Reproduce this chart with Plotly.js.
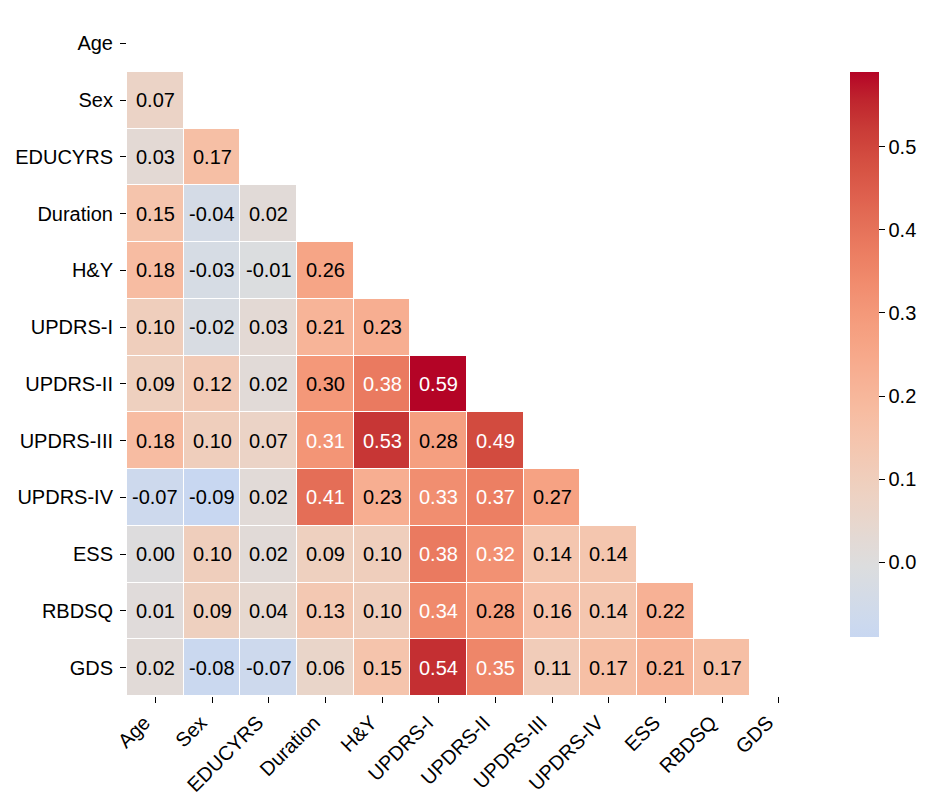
<!DOCTYPE html>
<html>
<head>
<meta charset="utf-8">
<script src="https://cdn.plot.ly/plotly-3.0.1.min.js"></script>
<style>html,body{margin:0;padding:0;background:#fff;}#chart{width:935px;height:807px;}</style>
</head>
<body>
<div id="chart"></div>
<script>
// Variables (tick labels)
const variables = ["Age","Sex","EDUCYRS","Duration","H&Y","UPDRS-I","UPDRS-II","UPDRS-III","UPDRS-IV","ESS","RBDSQ","GDS"];

// Lower-triangle correlation values, one list per row (row variable vs. earlier columns)
const rowAge      = [];
const rowSex      = [0.07];
const rowEDUCYRS  = [0.03, 0.17];
const rowDuration = [0.15, -0.04, 0.02];
const rowHY       = [0.18, -0.03, -0.01, 0.26];
const rowUPDRS1   = [0.10, -0.02, 0.03, 0.21, 0.23];
const rowUPDRS2   = [0.09, 0.12, 0.02, 0.30, 0.38, 0.59];
const rowUPDRS3   = [0.18, 0.10, 0.07, 0.31, 0.53, 0.28, 0.49];
const rowUPDRS4   = [-0.07, -0.09, 0.02, 0.41, 0.23, 0.33, 0.37, 0.27];
const rowESS      = [0.00, 0.10, 0.02, 0.09, 0.10, 0.38, 0.32, 0.14, 0.14];
const rowRBDSQ    = [0.01, 0.09, 0.04, 0.13, 0.10, 0.34, 0.28, 0.16, 0.14, 0.22];
const rowGDS      = [0.02, -0.08, -0.07, 0.06, 0.15, 0.54, 0.35, 0.11, 0.17, 0.21, 0.17];

const rows = [rowAge,rowSex,rowEDUCYRS,rowDuration,rowHY,rowUPDRS1,rowUPDRS2,rowUPDRS3,rowUPDRS4,rowESS,rowRBDSQ,rowGDS];
const colorbarTicks = [0.0, 0.1, 0.2, 0.3, 0.4, 0.5];

// Build masked matrix
const n = variables.length;
const z = rows.map(r => { const a = []; for (let j = 0; j < n; j++) a.push(j < r.length ? r[j] : null); return a; });

// coolwarm colormap, centered at 0
const coolwarm = [
 [59,76,192],[68,90,204],[77,104,215],[87,117,225],[98,130,234],[108,142,241],[119,154,247],[130,165,251],
 [141,176,254],[152,185,255],[163,194,255],[174,201,253],[184,208,249],[194,213,244],[204,217,238],[213,219,230],
 [221,221,221],[229,216,209],[236,211,197],[241,204,185],[245,196,173],[247,187,160],[247,177,148],[247,166,135],
 [244,154,123],[241,141,111],[236,127,99],[229,112,88],[222,96,77],[213,80,66],[203,62,56],[192,40,47],[180,4,38]
];
function cw(t){
  t = Math.max(0, Math.min(1, t));
  const p = t * (coolwarm.length - 1);
  const i = Math.min(Math.floor(p), coolwarm.length - 2);
  const f = p - i;
  const c = coolwarm[i].map((v,k) => Math.round(v + (coolwarm[i+1][k] - v) * f));
  return 'rgb(' + c.join(',') + ')';
}
const all = rows.flat();
const zmin = Math.min(...all), zmax = Math.max(...all);
const vr = Math.max(zmax, -zmin);
const colorscale = [];
const steps = 40;
for (let s = 0; s <= steps; s++) {
  const t = s / steps;
  const v = zmin + (zmax - zmin) * t;
  colorscale.push([t, cw(0.5 + v / (2 * vr))]);
}

const FONT = 'Liberation Sans, Arial, sans-serif';
const annotations = [];
rows.forEach((r, i) => r.forEach((v, j) => {
  annotations.push({
    x: variables[j], y: variables[i], xref: 'x', yref: 'y',
    text: v.toFixed(2), showarrow: false,
    font: {family: FONT, size: 20, color: v > 0.305 ? '#ffffff' : '#000000'}
  });
}));

const trace = {
  type: 'heatmap', x: variables, y: variables, z: z,
  zmin: zmin, zmax: zmax, colorscale: colorscale,
  xgap: 1, ygap: 1, hoverongaps: false,
  colorbar: {
    x: 1.063, xanchor: 'left', xpad: 0, y: 0.5015, yanchor: 'middle', ypad: 0,
    lenmode: 'pixels', len: 565, thickness: 29, outlinewidth: 0,
    ticks: 'outside', ticklen: 6, tickcolor: '#000',
    tickvals: colorbarTicks, tickformat: '.1f',
    tickfont: {family: FONT, size: 20, color: '#000'}
  }
};

const axisFont = {family: FONT, size: 20, color: '#000'};
const layout = {
  width: 935, height: 807,
  margin: {l: 127, r: 128, t: 15, b: 111, autoexpand: false},
  paper_bgcolor: '#fff', plot_bgcolor: '#fff',
  xaxis: {type: 'category', tickangle: -45, ticks: 'outside', ticklen: 6, tickcolor: '#000',
          showgrid: false, zeroline: false, showline: false, tickfont: axisFont, automargin: false,
          ticklabelshift: -11},
  yaxis: {type: 'category', autorange: 'reversed', ticks: 'outside', ticklen: 6, tickcolor: '#000',
          showgrid: false, zeroline: false, showline: false, tickfont: axisFont, automargin: false,
          ticklabelstandoff: 3},
  annotations: annotations,
  showlegend: false
};

Plotly.newPlot('chart', [trace], layout, {displayModeBar: false, staticPlot: true});
</script>
</body>
</html>
